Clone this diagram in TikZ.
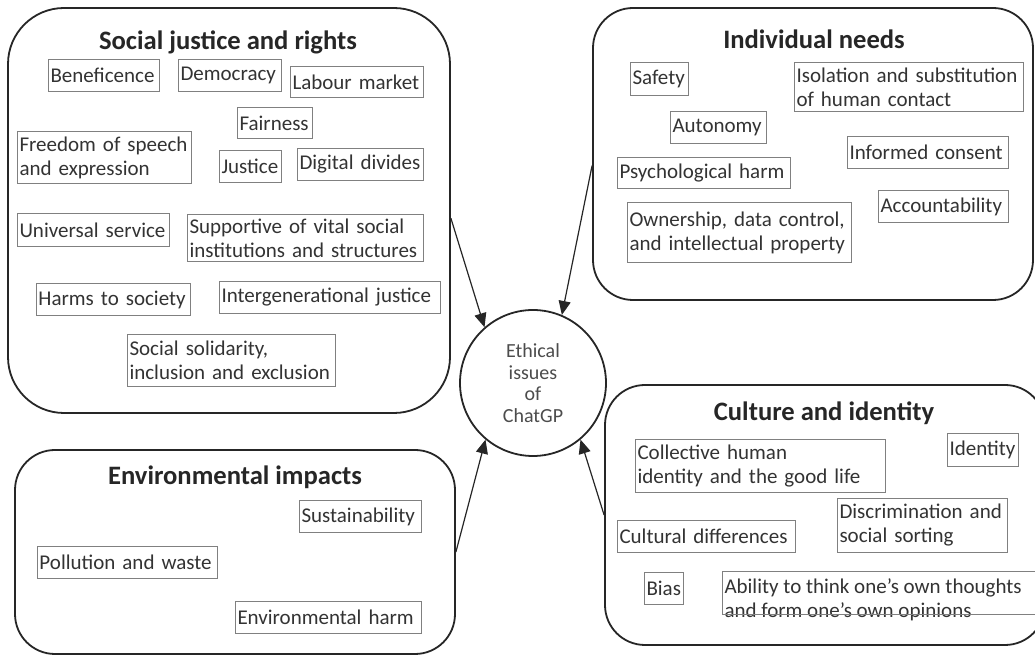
\documentclass[tikz,border=0pt]{standalone}
\usepackage{fontspec}
\setmainfont{Carlito}
\usetikzlibrary{arrows.meta,fit}

\tikzset{
  group/.style={draw=black!85, line width=0.9pt, rounded corners=20pt, inner sep=0pt},
  heading/.style={font=\fontsize{13.3}{15}\selectfont\bfseries, text=black!85},
  issue/.style={draw=black!50, line width=0.5pt, anchor=north west, align=left,
    inner xsep=1pt, inner ysep=0pt, font=\fontsize{10.5}{12}\selectfont, text=black!80,
    execute at begin node={\hyphenpenalty=10000}},
  feeds/.style={draw=black!85, line width=0.6pt, -{Triangle[length=7pt,width=6pt]}},
}

\begin{document}
\begin{tikzpicture}[x=0.5pt,y=-0.5pt]
			\fill[white] (0,0) rectangle (1035,657);
			\useasboundingbox (0,0) rectangle (1035,657);
			\clip (0,0) rectangle (1035,657);
			% Four groups of issues
			\node[group, rounded corners=28pt, fit={(8,8) (450,413)}] (sjr) {};
			\node[group, fit={(593,8) (1033,300)}] (ind) {};
			\node[group, fit={(15,450) (455,654)}] (env) {};
			\node[group, fit={(605,385) (1045,645)}] (cul) {};
			\node[heading] (sjrt) at (228,42) {Social justice and rights};
			\node[heading] (indt) at (814,39) {Individual needs};
			\node[heading] (envt) at (235,477) {Environmental impacts};
			\node[heading] (cult) at (824,413) {Culture and identity};
			% Social justice and rights
			\node[issue, text width=53.5pt, minimum height=16pt] (ben) at (48,59) {Beneficence};
			\node[issue, text width=49.5pt, minimum height=16pt] (dem) at (178,59) {Democracy};
			\node[issue, text width=64.5pt, minimum height=15.5pt] (lab) at (290,66) {Labour market};
			\node[issue, text width=35.5pt, minimum height=15.5pt] (fair) at (237,107) {Fairness};
			\node[issue, text width=85pt, minimum height=26pt] (free) at (17,131) {Freedom of speech\\and expression};
			\node[issue, text width=29pt, minimum height=16pt] (jus) at (219,150) {Justice};
			\node[issue, text width=61pt, minimum height=16pt] (dig) at (297,148) {Digital divides};
			\node[issue, text width=74pt, minimum height=16.5pt] (uni) at (17,213) {Universal service};
			\node[issue, text width=116pt, minimum height=23.5pt] (sup) at (187,214) {Supportive of vital social\\institutions and structures};
			\node[issue, text width=75pt, minimum height=16pt] (harm) at (36,283) {Harms to society};
			\node[issue, text width=108.5pt, minimum height=16pt] (gen) at (219,281) {Intergenerational justice};
			\node[issue, text width=102pt, minimum height=26pt] (sol) at (127,334) {Social solidarity,\\inclusion and exclusion};
			% Individual needs
			\node[issue, text width=27pt, minimum height=16.5pt] (saf) at (630,62) {Safety};
			\node[issue, text width=112.5pt, minimum height=24.5pt] (iso) at (794,62) {Isolation and substitution\\of human contact};
			\node[issue, text width=46pt, minimum height=16pt] (aut) at (670,111) {Autonomy};
			\node[issue, text width=78.5pt, minimum height=16pt] (inf) at (847,136) {Informed consent};
			\node[issue, text width=84.5pt, minimum height=15.5pt] (psy) at (617,157) {Psychological harm};
			\node[issue, text width=63pt, minimum height=16pt] (acc) at (878,190) {Accountability};
			\node[issue, text width=110pt, minimum height=30pt] (own) at (627,202) {Ownership, data control,\\and intellectual property};
			% Environmental impacts
			\node[issue, text width=59pt, minimum height=16pt] (sus) at (299,500) {Sustainability};
			\node[issue, text width=88pt, minimum height=16pt] (pol) at (37,546) {Pollution and waste};
			\node[issue, text width=91pt, minimum height=16pt] (envh) at (235,601) {Environmental harm};
			% Culture and identity
			\node[issue, text width=123pt, minimum height=26.5pt] (col) at (635,439) {Collective human\\identity and the good life};
			\node[issue, text width=33.5pt, minimum height=16.5pt] (idt) at (947,433) {Identity};
			\node[issue, text width=83pt, minimum height=27pt] (dis) at (837,498) {Discrimination and\\social sorting};
			\node[issue, text width=87pt, minimum height=16pt] (cd) at (617,520) {Cultural differences};
			\node[issue, text width=17.5pt, minimum height=16pt] (bias) at (644,572) {Bias};
			\node[issue, draw=none, inner ysep=3pt] (abil) at (722,572) {Ability to think one’s own thoughts\\and form one’s own opinions};
			\node[draw=black!50, line width=0.5pt, inner sep=0pt, fit={(722,572) (1045,615)}] (abilbox) {};
			% Centre
			\node[circle, draw=black!85, line width=0.9pt, minimum size=73pt, inner sep=0pt, align=center,
			  font=\fontsize{10}{10.75}\selectfont, text=black!70] (eth) at (533,383) {Ethical\\issues\\of\\ChatGP};
			\draw[feeds] (sjr.-2) -- (eth.131);
			\draw[feeds] (ind.183) -- (eth.67);
			\draw[feeds] (env.east) -- (eth.230);
			\draw[feeds] (cul.west) -- (eth.310);
		\end{tikzpicture}
\end{document}
